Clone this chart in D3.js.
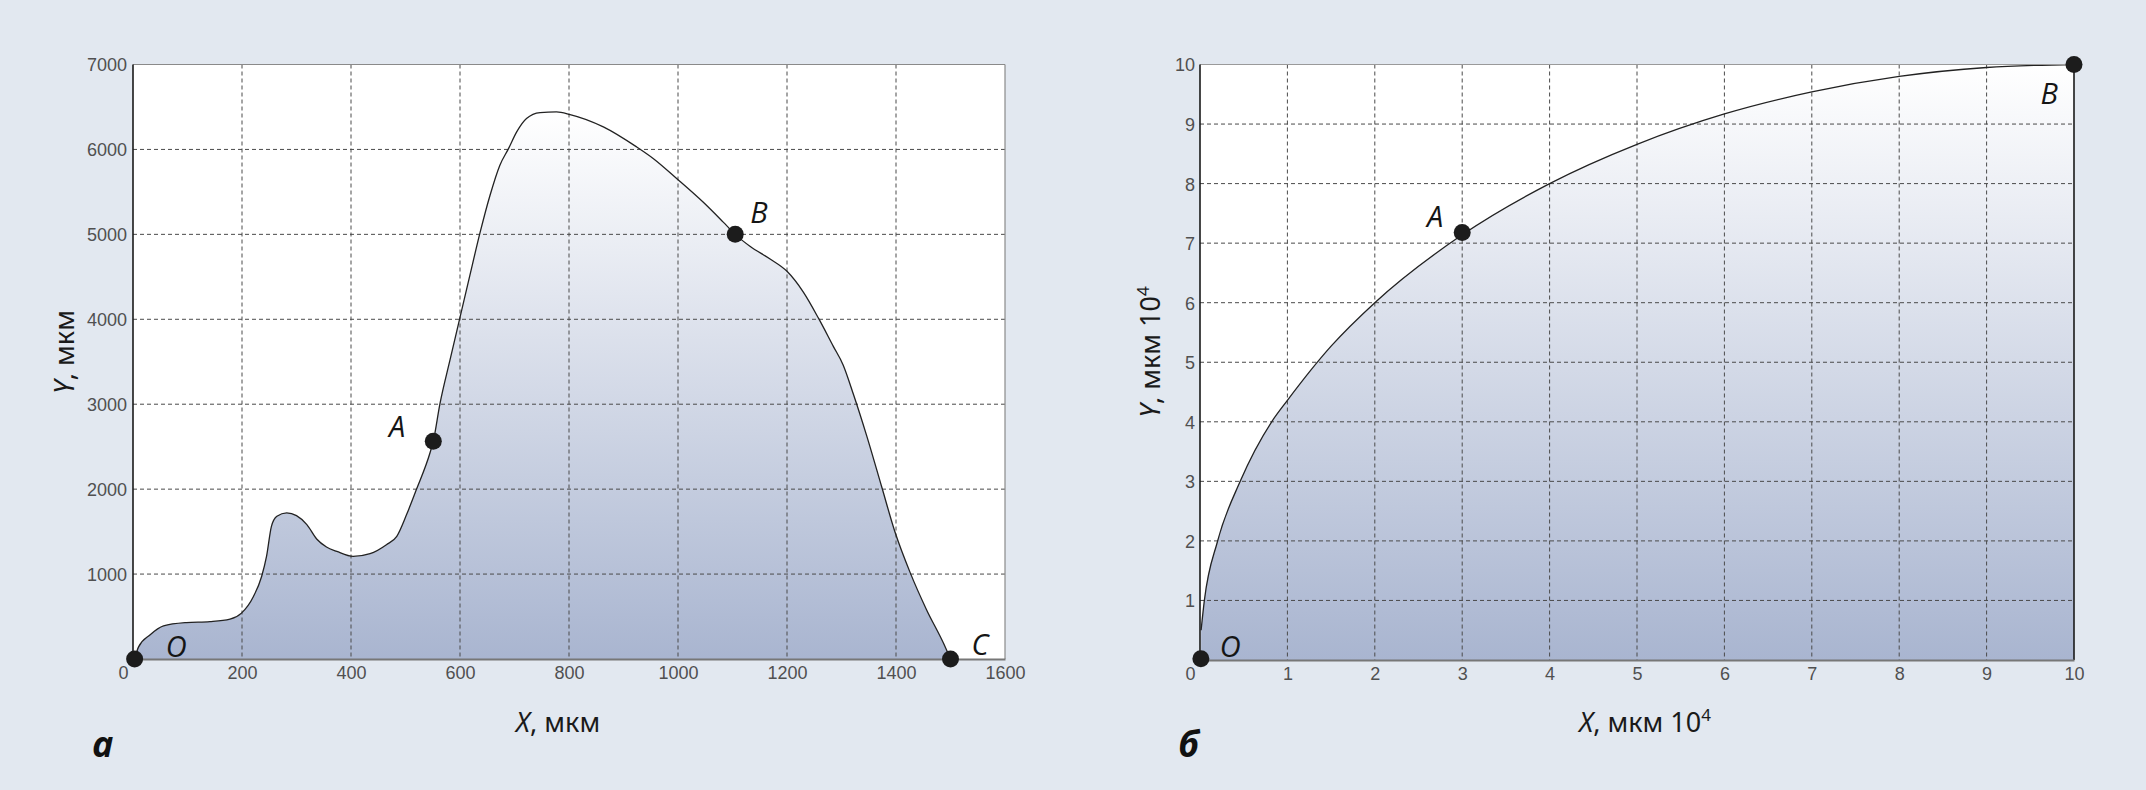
<!DOCTYPE html>
<html><head><meta charset="utf-8">
<script src="https://cdn.jsdelivr.net/npm/d3@7"></script>
<style>body{margin:0;background:#e2e8f0;} svg{display:block}</style>
</head><body><svg id="c" width="2146" height="790"></svg>
<script>
// ---------- Panel a: profile ----------
const profileX = [3, 10, 31, 56, 98, 141, 178, 199, 221, 236, 245, 254, 264, 282, 300, 319, 337, 355, 374, 404, 435, 465, 484, 502, 520, 545, 551, 563, 582, 600, 618, 637, 655, 673, 689, 704, 722, 747, 777, 802, 863, 924, 955, 998, 1046, 1083, 1105, 1132, 1169, 1200, 1230, 1258, 1285, 1303, 1322, 1346, 1374, 1398, 1426, 1456, 1487, 1500];
const profileY = [0, 140, 283, 390, 429, 440, 469, 540, 736, 972, 1208, 1562, 1680, 1720, 1688, 1582, 1413, 1319, 1267, 1208, 1240, 1346, 1444, 1700, 1995, 2428, 2565, 2999, 3530, 4022, 4514, 5026, 5458, 5812, 6009, 6206, 6364, 6434, 6442, 6411, 6266, 6030, 5891, 5655, 5380, 5144, 5000, 4860, 4710, 4565, 4320, 4010, 3681, 3463, 3114, 2633, 2022, 1498, 1017, 581, 188, 0];
const profilePointNames = ["O", "A", "B", "C"];
const profilePointX = [3, 551, 1105, 1500];
const profilePointY = [0, 2565, 5000, 0];
const profileXTicks = [0, 200, 400, 600, 800, 1000, 1200, 1400, 1600];
const profileYTicks = [1000, 2000, 3000, 4000, 5000, 6000, 7000];

// ---------- Panel б: curve ----------
const curveX = [0.0125, 0.05, 0.2, 0.46, 0.82, 1, 1.5, 2, 3, 4, 5, 6, 7, 8, 9, 10];
const curveY = [0.5, 1, 1.99, 3.0, 4.0, 4.36, 5.27, 6.0, 7.14, 8.0, 8.66, 9.17, 9.54, 9.8, 9.95, 10];
const curvePointNames = ["O", "A", "B"];
const curvePointX = [0.01, 3, 10];
const curvePointY = [0.02, 7.18, 10];
const curveXTicks = [0, 1, 2, 3, 4, 5, 6, 7, 8, 9, 10];
const curveYTicks = [1, 2, 3, 4, 5, 6, 7, 8, 9, 10];

const svg = d3.select("#c");
const defs = svg.append("defs");
svg.append("rect").attr("width", 2146).attr("height", 790).attr("fill", "#e2e8f0");

function panel(cfg) {
  const x = d3.scaleLinear().domain(cfg.xDomain).range([cfg.left, cfg.right]);
  const y = d3.scaleLinear().domain(cfg.yDomain).range([cfg.bottom, cfg.top]);
  const g = svg.append("g");
  const data = cfg.xs.map((v, i) => [v, cfg.ys[i]]);

  g.append("rect").attr("x", cfg.left).attr("y", cfg.top)
    .attr("width", cfg.right - cfg.left).attr("height", cfg.bottom - cfg.top).attr("fill", "#fff");

  const gid = "grad" + cfg.id;
  const gr = defs.append("linearGradient").attr("id", gid)
    .attr("gradientUnits", "userSpaceOnUse")
    .attr("x1", 0).attr("x2", 0).attr("y1", y(d3.max(cfg.ys))).attr("y2", cfg.bottom);
  gr.append("stop").attr("offset", 0).attr("stop-color", "#ffffff");
  gr.append("stop").attr("offset", 1).attr("stop-color", "#a9b5d0");

  const area = d3.area().x(d => x(d[0])).y0(y(0)).y1(d => y(d[1])).curve(d3.curveMonotoneX);
  g.append("path").datum(data).attr("d", area).attr("fill", `url(#${gid})`);

  // grid
  const grid = g.append("g").attr("stroke", "#4a4a4a").attr("stroke-width", 1).attr("stroke-dasharray", "4,3");
  cfg.xGrid.forEach(v => grid.append("line").attr("x1", x(v)).attr("x2", x(v)).attr("y1", cfg.top).attr("y2", cfg.bottom));
  cfg.yGrid.forEach(v => grid.append("line").attr("y1", y(v)).attr("y2", y(v)).attr("x1", cfg.left).attr("x2", cfg.right));

  const line = d3.line().x(d => x(d[0])).y(d => y(d[1])).curve(d3.curveMonotoneX);
  g.append("path").datum(data).attr("d", line).attr("fill", "none").attr("stroke", "#222").attr("stroke-width", 1.3);

  // borders
  g.append("line").attr("x1", cfg.left).attr("x2", cfg.right).attr("y1", cfg.top).attr("y2", cfg.top)
    .attr("stroke", cfg.topColor).attr("stroke-width", 1.2);
  g.append("line").attr("x1", cfg.right).attr("x2", cfg.right).attr("y1", cfg.top).attr("y2", cfg.bottom)
    .attr("stroke", cfg.rightColor).attr("stroke-width", cfg.rightW);
  g.append("line").attr("x1", cfg.left).attr("x2", cfg.left).attr("y1", cfg.top).attr("y2", cfg.bottom)
    .attr("stroke", "#1a1a1a").attr("stroke-width", 1.6);

  // axes
  const xa = g.append("g").attr("transform", `translate(0,${cfg.bottom})`)
    .call(d3.axisBottom(x).tickValues(cfg.xTicks).tickSize(0).tickFormat(d3.format("d")));
  xa.select(".domain").attr("stroke", "#777").attr("stroke-width", 2.2);
  xa.selectAll("text").attr("y", 20).attr("dy", 0)
    .attr("font-family", "Liberation Sans, Arial, sans-serif").attr("font-size", 18).attr("fill", "#505050")
    .attr("dx", d => d === 0 ? -10 : 0);

  const ya = g.append("g").attr("transform", `translate(${cfg.left},0)`)
    .call(d3.axisLeft(y).tickValues(cfg.yTicks).tickSize(0).tickPadding(cfg.yPad).tickFormat(d3.format("d")));
  ya.select(".domain").remove();
  ya.selectAll("text").attr("dy", "0.36em")
    .attr("font-family", "Liberation Sans, Arial, sans-serif").attr("font-size", 18).attr("fill", "#505050");

  // points
  cfg.pNames.forEach((n, i) => {
    const px = x(cfg.pX[i]), py = y(cfg.pY[i]);
    g.append("circle").attr("cx", px).attr("cy", py).attr("r", 8.5).attr("fill", "#1c1c1c");
    const o = cfg.labelOff[n];
    g.append("text").attr("x", px + o[0]).attr("y", py + o[1]).attr("text-anchor", o[2])
      .attr("font-family", "Open Sans, Noto Sans, sans-serif").attr("font-style", "italic")
      .attr("font-size", 29).attr("fill", "#151515").text(n);
  });

  // axis titles
  const xt = g.append("text").attr("x", cfg.xTitleX).attr("y", 732).attr("text-anchor", "middle")
    .attr("font-family", "Noto Sans, Open Sans, sans-serif").attr("font-size", 27).attr("fill", "#1a1a1a");
  xt.append("tspan").attr("font-style", "italic").text("X");
  xt.append("tspan").text(", мкм");
  if (cfg.sup) { xt.append("tspan").text(" 10"); xt.append("tspan").attr("font-size", 17).attr("dy", -11).text("4"); }

  const yt = g.append("text").attr("transform", `translate(${cfg.yTitleX},352) rotate(-90)`).attr("text-anchor", "middle")
    .attr("font-family", "Noto Sans, Open Sans, sans-serif").attr("font-size", 27).attr("fill", "#1a1a1a");
  yt.append("tspan").attr("font-style", "italic").text("Y");
  yt.append("tspan").text(", мкм");
  if (cfg.sup) { yt.append("tspan").text(" 10"); yt.append("tspan").attr("font-size", 17).attr("dy", -11).text("4"); }

  g.append("text").attr("x", cfg.panelX).attr("y", 757)
    .attr("font-family", "Open Sans, Noto Sans, sans-serif").attr("font-style", "italic").attr("font-weight", "bold")
    .attr("font-size", 36).attr("fill", "#111").text(cfg.panelLabel);
}

panel({
  id: "a", left: 133, right: 1005, top: 64.5, bottom: 659,
  xDomain: [0, 1600], yDomain: [0, 7000],
  xs: profileX, ys: profileY,
  xTicks: profileXTicks, yTicks: profileYTicks,
  xGrid: [200, 400, 600, 800, 1000, 1200, 1400], yGrid: [1000, 2000, 3000, 4000, 5000, 6000],
  topColor: "#8a8a8a", rightColor: "#8a8a8a", rightW: 1.2, yPad: 6,
  pNames: profilePointNames, pX: profilePointX, pY: profilePointY,
  labelOff: { O: [31, -2, "start"], A: [-28, -4, "end"], B: [15, -11, "start"], C: [21, -4, "start"] },
  xTitleX: 558, yTitleX: 74, sup: false, panelX: 92, panelLabel: "а"
});

panel({
  id: "b", left: 1200, right: 2074, top: 64.5, bottom: 660,
  xDomain: [0, 10], yDomain: [0, 10],
  xs: curveX, ys: curveY,
  xTicks: curveXTicks, yTicks: curveYTicks,
  xGrid: [1, 2, 3, 4, 5, 6, 7, 8, 9], yGrid: [1, 2, 3, 4, 5, 6, 7, 8, 9, 10],
  topColor: "#9a9a9a", rightColor: "#1a1a1a", rightW: 1.6, yPad: 5,
  pNames: curvePointNames, pX: curvePointX, pY: curvePointY,
  labelOff: { O: [19, -2, "start"], A: [-19, -5, "end"], B: [-16, 39, "end"] },
  xTitleX: 1645, yTitleX: 1160, sup: true, panelX: 1178, panelLabel: "б"
});
</script></body></html>
